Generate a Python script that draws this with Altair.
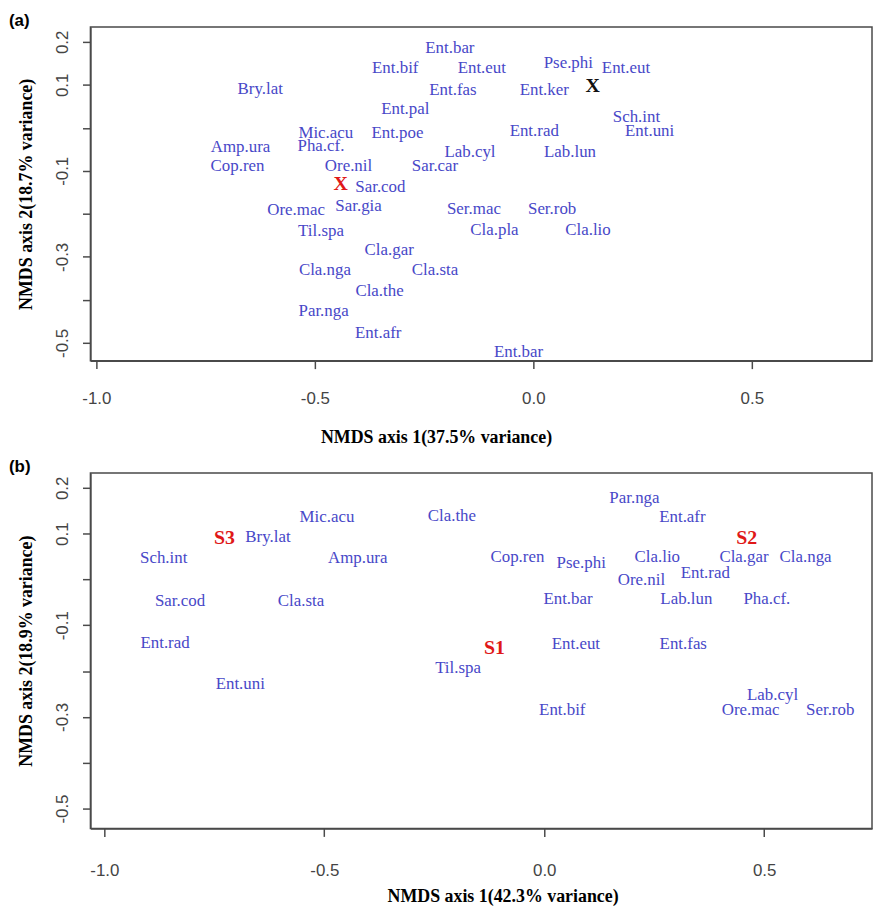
import altair as alt
import pandas as pd

# ---------------- Panel (a) ----------------
a_labels = ["Ent.bar", "Ent.bif", "Ent.eut", "Pse.phi", "Ent.eut", "Bry.lat", "Ent.fas", "Ent.ker",
            "Ent.pal", "Sch.int", "Mic.acu", "Ent.poe", "Ent.rad", "Ent.uni", "Amp.ura", "Pha.cf.",
            "Lab.cyl", "Lab.lun", "Cop.ren", "Ore.nil", "Sar.car", "Sar.cod", "Ore.mac", "Sar.gia",
            "Ser.mac", "Ser.rob", "Til.spa", "Cla.pla", "Cla.lio", "Cla.gar", "Cla.nga", "Cla.sta",
            "Cla.the", "Par.nga", "Ent.afr", "Ent.bar"]
a_x = [-0.191, -0.316, -0.118, 0.080, 0.212, -0.625, -0.184, 0.025,
       -0.293, 0.236, -0.475, -0.311, 0.002, 0.266, -0.670, -0.486,
       -0.145, 0.084, -0.677, -0.423, -0.225, -0.350, -0.543, -0.400,
       -0.136, 0.043, -0.486, -0.089, 0.125, -0.330, -0.477, -0.225,
       -0.352, -0.480, -0.355, -0.034]
a_y = [0.186, 0.140, 0.140, 0.151, 0.140, 0.091, 0.089, 0.089,
       0.043, 0.026, -0.011, -0.011, -0.008, -0.008, -0.045, -0.042,
       -0.056, -0.056, -0.088, -0.088, -0.088, -0.138, -0.190, -0.181,
       -0.188, -0.188, -0.239, -0.237, -0.237, -0.283, -0.331, -0.331,
       -0.380, -0.426, -0.477, -0.521]
a_mark_text = ["X", "X"]
a_mark_x = [-0.441, 0.136]
a_mark_y = [-0.130, 0.098]
a_mark_color = ["#e01818", "#111111"]

# ---------------- Panel (b) ----------------
b_labels = ["Mic.acu", "Bry.lat", "Sch.int", "Amp.ura", "Sar.cod", "Cla.sta", "Ent.rad", "Ent.uni",
            "Cla.the", "Par.nga", "Ent.afr", "Cop.ren", "Pse.phi", "Cla.lio", "Cla.gar", "Cla.nga",
            "Ore.nil", "Ent.rad", "Ent.bar", "Lab.lun", "Pha.cf.", "Ent.eut", "Ent.fas", "Til.spa",
            "Ent.bif", "Lab.cyl", "Ore.mac", "Ser.rob"]
b_x = [-0.494, -0.628, -0.865, -0.424, -0.828, -0.553, -0.862, -0.691,
       -0.210, 0.205, 0.314, -0.061, 0.084, 0.257, 0.454, 0.594,
       0.221, 0.366, 0.054, 0.323, 0.506, 0.072, 0.316, -0.196,
       0.041, 0.519, 0.469, 0.650]
b_y = [0.137, 0.093, 0.046, 0.046, -0.046, -0.046, -0.139, -0.228,
       0.139, 0.178, 0.137, 0.048, 0.035, 0.048, 0.048, 0.048,
       -0.002, 0.013, -0.043, -0.043, -0.043, -0.141, -0.141, -0.193,
       -0.284, -0.252, -0.284, -0.284]
b_site_text = ["S1", "S2", "S3"]
b_site_x = [-0.113, 0.460, -0.727]
b_site_y = [-0.150, 0.091, 0.091]
b_site_color = ["#e01818", "#e01818", "#e01818"]

# ---------------- axes ----------------
x_ticks = [-1.0, -0.5, 0.0, 0.5]
y_ticks = [-0.5, -0.4, -0.3, -0.2, -0.1, 0.0, 0.1, 0.2]
y_hidden = [0.0, -0.2, -0.4]   # ticks drawn without a label (as R drops them)

BLUE = "#4848c8"
SERIF = "Liberation Serif"
SANS = "Liberation Sans"

FMT = "replace(format(datum.value, '.1f'), '\u2212', '-')"
Y_EXPR = "(" + " || ".join("abs(datum.value - (%s)) < 0.01" % v for v in y_hidden) + ") ? '' : " + FMT


def panel(labels, xs, ys, mtext, mx, my, mcol, xdom, ydom, w, h,
          xtitle, ytitle, tag, title_x, x_label_pad, x_title_pad):
    df = pd.DataFrame({"label": labels, "x": xs, "y": ys})
    mk = pd.DataFrame({"label": mtext, "x": mx, "y": my, "color": mcol})
    xenc = alt.X("x:Q", scale=alt.Scale(domain=xdom, nice=False, zero=False),
                 axis=alt.Axis(values=x_ticks, labelExpr=FMT, title=xtitle, grid=False,
                               labelPadding=x_label_pad, titlePadding=x_title_pad, titleX=title_x,
                               labelOverlap=False))
    yenc = alt.Y("y:Q", scale=alt.Scale(domain=ydom, nice=False, zero=False),
                 axis=alt.Axis(values=y_ticks, labelExpr=Y_EXPR, title=ytitle, grid=False,
                               labelAngle=270, labelPadding=11, titlePadding=18,
                               labelOverlap=False))
    species = alt.Chart(df).mark_text(font=SERIF, fontSize=17, color=BLUE).encode(
        x=xenc, y=yenc, text="label:N")
    marks = alt.Chart(mk).mark_text(font=SERIF, fontSize=20, fontWeight="bold").encode(
        x="x:Q", y="y:Q", text="label:N", color=alt.Color("color:N", scale=None))
    return alt.layer(species, marks).properties(
        width=w, height=h,
        title=alt.TitleParams(tag, anchor="start", frame="group", dx=-82, offset=-3,
                              font=SANS, fontSize=17, fontWeight="bold", color="black"))


pa = panel(a_labels, a_x, a_y, a_mark_text, a_mark_x, a_mark_y, a_mark_color,
           [-1.0136, 0.775], [-0.5414, 0.2344], 787, 336,
           "NMDS axis 1(37.5% variance)", "NMDS axis 2(18.7% variance)", "(a)", 348, 22, 22)
pb = panel(b_labels, b_x, b_y, b_site_text, b_site_x, b_site_y, b_site_color,
           [-1.0316, 0.745], [-0.5434, 0.2326], 787, 358,
           "NMDS axis 1(42.3% variance)", "NMDS axis 2(18.9% variance)", "(b)", 415, 26, 10)

chart = alt.vconcat(pa, pb).properties(
    spacing=113, bounds="flush", padding=0, background="white"
).configure_view(
    stroke="#4a4a4a", strokeWidth=1.5
).configure_axis(
    labelFont=SANS, labelFontSize=17, labelColor="#444444",
    tickColor="#4a4a4a", tickSize=8, tickWidth=1.5,
    domainColor="#4a4a4a", domainWidth=1.5,
    titleFont=SERIF, titleFontSize=18, titleFontWeight="bold", titleColor="black"
)

chart.save("out.html", embed_options={"renderer": "svg", "actions": False})
